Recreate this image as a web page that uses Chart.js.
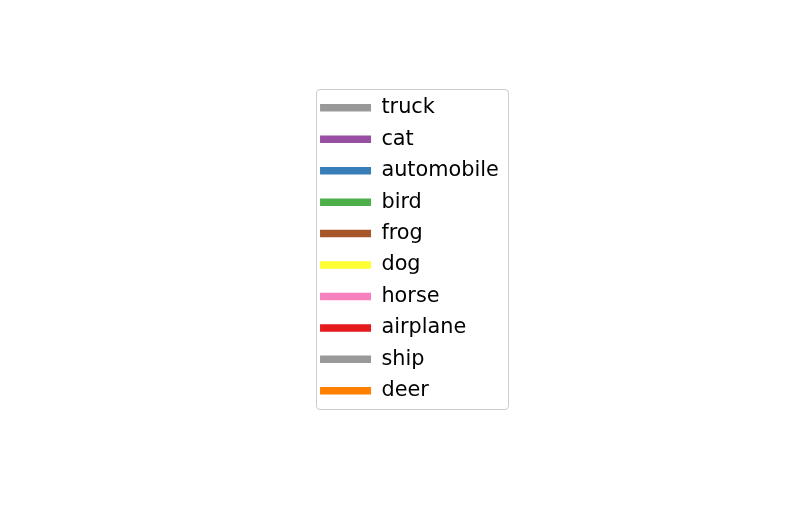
<!DOCTYPE html>
<html>
<head>
<meta charset="utf-8">
<script src="https://cdn.jsdelivr.net/npm/chart.js@4"></script>
<style>
  html, body { margin: 0; padding: 0; background: #ffffff; }
  #wrap { position: relative; width: 792px; height: 527px; }
  #frame {
    position: absolute; left: 315.5px; top: 89px; width: 193px; height: 320.5px;
    border: 1.4px solid #cccccc; border-radius: 4px; box-sizing: border-box; background: #fff;
  }
  #c { position: absolute; left: 0; top: 0; }
</style>
</head>
<body>
<div id="wrap">
  <div id="frame"></div>
  <canvas id="c" width="792" height="527"></canvas>
</div>
<script>
const categories = ["truck", "cat", "automobile", "bird", "frog", "dog", "horse", "airplane", "ship", "deer"];
const seriesColors = ["#999999", "#984ea3", "#377eb8", "#4daf4a", "#a65628", "#ffff33", "#f781bf", "#e41a1c", "#999999", "#ff7f00"];

const datasets = categories.map((name, i) => ({
  label: name,
  data: [],
  backgroundColor: seriesColors[i],
  borderColor: seriesColors[i],
  borderWidth: 0
}));

new Chart(document.getElementById('c'), {
  type: 'line',
  data: { labels: [], datasets },
  options: {
    responsive: false,
    animation: false,
    events: [],
    layout: { padding: { left: 309.4, top: 86.8, right: 0, bottom: 0 } },
    scales: { x: { display: false }, y: { display: false } },
    plugins: {
      tooltip: { enabled: false },
      legend: {
        display: true,
        position: 'left',
        align: 'start',
        labels: {
          boxWidth: 51,
          boxHeight: 7.5,
          padding: 10.64,
          color: '#000000',
          font: { family: 'DejaVu Sans', size: 20.8 }
        }
      }
    }
  }
});
</script>
</body>
</html>
